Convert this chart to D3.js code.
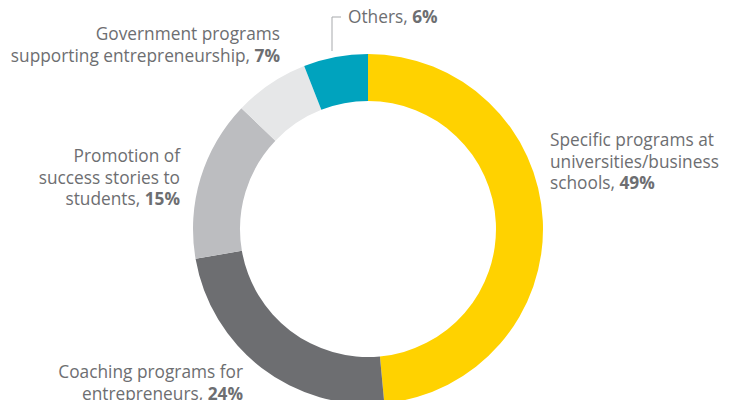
<!DOCTYPE html>
<html>
<head>
<meta charset="utf-8">
<script src="https://cdn.jsdelivr.net/npm/d3@7"></script>
<style>
  body { margin: 0; background: #fff; }
  text { font-family: "Open Sans", sans-serif; fill: #6d6e71; }
</style>
</head>
<body>
<div id="chart"></div>
<script>
// data
var categories = ["Specific programs at universities/business schools",
    "Coaching programs for entrepreneurs",
    "Promotion of success stories to students",
    "Government programs supporting entrepreneurship",
    "Others"];
var values = [49, 24, 15, 7, 6];
var colors = ["#ffd200", "#6d6e71", "#bcbdc0", "#e6e7e8", "#00a3be"];

// label lines (last line gets the bold value)
var labelLines = [
    ["Specific programs at", "universities/business", "schools, "],
    ["Coaching programs for", "entrepreneurs, "],
    ["Promotion of", "success stories to", "students, "],
    ["Government programs", "supporting entrepreneurship, "],
    ["Others, "]
];

// layout for labels
var labelPos = [
    {x: 550, y: 146, anchor: "start"},
    {x: 243, y: 378, anchor: "end"},
    {x: 180, y: 162, anchor: "end"},
    {x: 280, y: 40, anchor: "end"},
    {x: 348, y: 23, anchor: "start"}
];

var width = 739, height = 400;
var cx = 368, cy = 229;
var outerR = 175, innerR = 128;

var svg = d3.select("#chart").append("svg")
    .attr("width", width)
    .attr("height", height);

var pie = d3.pie().sort(null).value(d => d);
var arc = d3.arc().innerRadius(innerR).outerRadius(outerR);

var g = svg.append("g").attr("transform", "translate(" + cx + "," + cy + ")");

g.selectAll("path")
    .data(pie(values))
    .enter().append("path")
    .attr("d", arc)
    .attr("fill", (d, i) => colors[i]);

// labels
var labels = svg.selectAll("text.lbl")
    .data(labelLines)
    .enter().append("text")
    .attr("class", "lbl")
    .attr("font-size", 17.3)
    .attr("text-anchor", (d, i) => labelPos[i].anchor);

labels.each(function(lines, i) {
    var t = d3.select(this);
    var lineH = i == 3 ? 22 : 21.5;
    lines.forEach(function(line, j) {
        t.append("tspan")
            .attr("x", labelPos[i].x)
            .attr("y", labelPos[i].y + j * lineH)
            .text(line);
        if (j == lines.length - 1) {
            t.append("tspan")
                .attr("font-weight", "bold")
                .text(values[i] + "%");
        }
    });
});

// leader for Others
svg.append("path")
    .attr("d", "M341,17H332V51")
    .attr("fill", "none")
    .attr("stroke", "#a7a9ac")
    .attr("stroke-width", 1);
</script>
</body>
</html>
